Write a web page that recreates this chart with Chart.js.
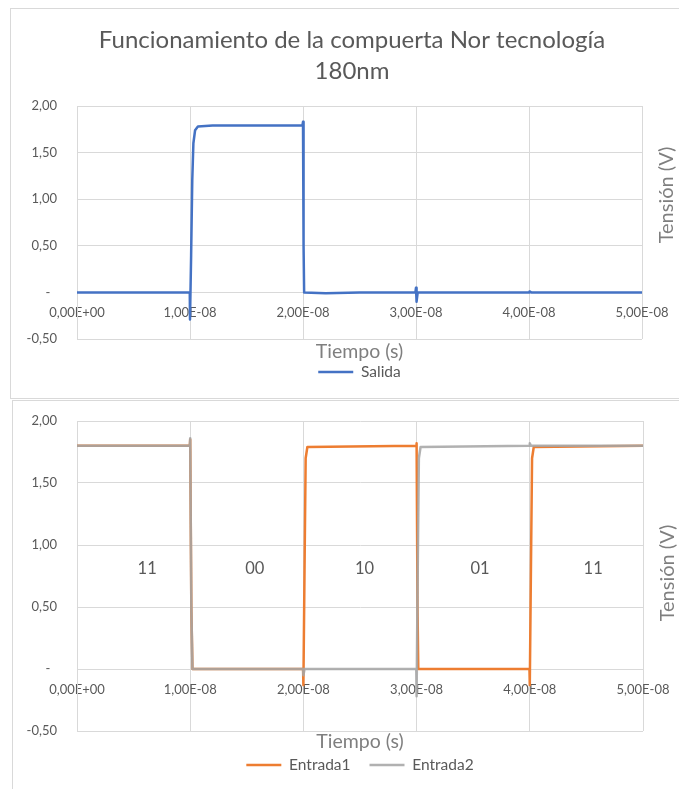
<!DOCTYPE html>
<html lang="es">
<head>
<meta charset="UTF-8">
<title>Funcionamiento de la compuerta Nor tecnología 180nm</title>
<script src="https://cdn.jsdelivr.net/npm/chart.js"></script>
<style>
  body { margin: 0; background: #fff; width: 679px; height: 789px; position: relative; overflow: hidden; }
  #top { position: absolute; left: 10px; top: 8px; width: 669px; height: 389px; border: 1px solid #d9d9d9; }
  #bottom { position: absolute; left: 12px; top: 400px; width: 666px; height: 388px; border-left: 1px solid #d9d9d9; border-top: 1px solid #d9d9d9; }
  canvas { display: block; }
</style>
</head>
<body>
<div id="top"><canvas id="salidaChart" width="669" height="389"></canvas></div>
<div id="bottom"><canvas id="entradasChart" width="666" height="388"></canvas></div>

<script>
// tiempos en ns, tensiones en V
const salidaT = [0, 9.98, 10.0, 10.1, 10.2, 10.3, 10.45, 10.7, 12, 19.95, 20.0, 20.05, 20.1, 22, 25, 29.95, 30.0, 30.05, 30.15, 40, 40.05, 40.2, 50];
const salidaV = [0, 0, -0.29, 0.4, 1.2, 1.6, 1.74, 1.78, 1.79, 1.79, 1.83, 0.5, 0.0, -0.01, 0, 0, 0.05, -0.1, 0, 0, 0.01, 0, 0];

const entrada1T = [0, 9.97, 10.0, 10.1, 10.2, 19.97, 20.0, 20.1, 20.2, 20.35, 29.97, 30.0, 30.08, 30.15, 39.97, 40.0, 40.1, 40.2, 40.35, 50];
const entrada1V = [1.8, 1.8, 1.85, 0.5, 0, 0, -0.13, 0.8, 1.7, 1.79, 1.8, 1.82, 0.5, 0, 0, -0.13, 0.8, 1.7, 1.79, 1.8];

const entrada2T = [0, 9.97, 10.0, 10.1, 10.2, 19.97, 20.0, 20.1, 29.97, 30.0, 30.1, 30.2, 30.35, 39.97, 40.0, 40.1, 50];
const entrada2V = [1.8, 1.8, 1.86, 0.5, 0, 0, -0.05, 0, 0, -0.22, 0.8, 1.7, 1.79, 1.8, 1.82, 1.8, 1.8];

const xTicks = [0, 1e-8, 2e-8, 3e-8, 4e-8, 5e-8];
const yTicks = [-0.5, 0, 0.5, 1, 1.5, 2];

const stateNames = ['11', '00', '10', '01', '11'];
const stateT = [6.2, 15.7, 25.4, 35.6, 45.6];
const stateV = [0.81, 0.81, 0.81, 0.81, 0.81];

const NS = 1e-9;
const toPoints = (t, v) => t.map((ti, i) => ({ x: ti * NS, y: v[i] }));

Chart.defaults.font.family = "Lato, 'Open Sans', sans-serif";
Chart.defaults.color = '#595959';

function fmtSci(v) {
    if (v === 0) return '0,00E+00';
    const e = Math.floor(Math.log10(Math.abs(v)) + 1e-9);
    const m = v / Math.pow(10, e);
    return m.toFixed(2).replace('.', ',') + 'E' + (e < 0 ? '-' : '+') + String(Math.abs(e)).padStart(2, '0');
}
function fmtY(v) {
    return v === 0 ? '-  ' : v.toFixed(2).replace('.', ',');
}

// título, rótulo del eje Y a la derecha y estados de entrada
const decor = {
    id: 'decor',
    afterDraw(chart, args, opts) {
        const ctx = chart.ctx;
        const area = chart.chartArea;
        ctx.save();
        ctx.fillStyle = '#595959';
        ctx.textAlign = 'center';
        ctx.textBaseline = 'middle';
        if (opts.title) {
            ctx.font = "24px Lato";
            opts.title.forEach((line, i) => ctx.fillText(line, opts.titleX, opts.titleY + i * 31));
        }
        if (opts.states) {
            ctx.font = "16.5px Lato";
            const xs = chart.scales.x, ys = chart.scales.y;
            stateNames.forEach((s, i) => {
                ctx.fillText(s, xs.getPixelForValue(stateT[i] * NS), ys.getPixelForValue(stateV[i]));
            });
        }
        ctx.fillStyle = '#7f7f7f';
        ctx.font = "20px Lato";
        ctx.translate(area.right + 25, opts.yTitleY);
        ctx.rotate(-Math.PI / 2);
        ctx.fillText('Tensión (V)', 0, 0);
        ctx.restore();
    }
};

const clear = 'rgba(0,0,0,0)';

function makeOptions(c) {
    return {
        responsive: false,
        animation: false,
        events: [],
        layout: { padding: { top: c.padTop, right: c.padRight, bottom: c.padBottom, left: 0 } },
        scales: {
            x: {
                type: 'linear',
                position: { y: 0 },
                min: 0, max: 5e-8,
                afterBuildTicks: s => { s.ticks = xTicks.map(v => ({ value: v })); },
                ticks: { callback: v => fmtSci(v), padding: 0, maxRotation: 0, font: { size: 13 } },
                grid: { color: '#d9d9d9', drawTicks: true, tickLength: 13, tickColor: clear },
                border: { color: '#d9d9d9' }
            },
            xTitle: {
                type: 'linear',
                position: 'bottom',
                grid: { display: false },
                border: { display: false },
                ticks: { display: false },
                title: { display: true, text: 'Tiempo (s)', color: '#7f7f7f', font: { size: 19.5 }, padding: { top: 0, bottom: c.titlePadBottom } },
                afterFit: s => { s.height = c.titleH; }
            },
            y: {
                min: -0.5, max: 2,
                afterBuildTicks: s => { s.ticks = yTicks.map(v => ({ value: v })); },
                ticks: { callback: v => fmtY(v), padding: 0, font: { size: 13 } },
                grid: { color: '#d9d9d9', drawTicks: true, tickLength: 20, tickColor: clear },
                border: { color: '#d9d9d9' },
                afterFit: s => { s.width = c.yWidth; }
            }
        },
        plugins: {
            legend: {
                position: 'bottom',
                fullSize: false,
                labels: {
                    usePointStyle: true,
                    pointStyle: 'line',
                    pointStyleWidth: 35,
                    padding: c.legendPad,
                    font: { size: 15.5 },
                    color: '#595959',
                    sort: (a, b) => a.datasetIndex - b.datasetIndex
                }
            },
            tooltip: { enabled: false },
            decor: c.decor
        }
    };
}

new Chart(document.getElementById('salidaChart'), {
    type: 'line',
    data: {
        datasets: [{
            label: 'Salida',
            data: toPoints(salidaT, salidaV),
            borderColor: '#4472C4',
            backgroundColor: '#4472C4',
            borderWidth: 2.5,
            pointRadius: 0,
            tension: 0,
            borderJoinStyle: 'round'
        }]
    },
    options: makeOptions({
        padTop: 97, padRight: 38, padBottom: 8.25, yWidth: 66,
        titleH: 21, titlePadBottom: -3.7, legendPad: 4.25,
        decor: { title: ['Funcionamiento de la compuerta Nor tecnología', '180nm'], titleX: 341, titleY: 31, yTitleY: 186 }
    }),
    plugins: [decor]
});

new Chart(document.getElementById('entradasChart'), {
    type: 'line',
    data: {
        datasets: [{
            label: 'Entrada1',
            data: toPoints(entrada1T, entrada1V),
            borderColor: '#ED7D31',
            backgroundColor: '#ED7D31',
            borderWidth: 2.5,
            pointRadius: 0,
            tension: 0,
            borderJoinStyle: 'round',
            order: 1
        }, {
            label: 'Entrada2',
            data: toPoints(entrada2T, entrada2V),
            borderColor: 'rgba(165,165,165,0.87)',
            backgroundColor: 'rgba(165,165,165,0.87)',
            borderWidth: 2.5,
            pointRadius: 0,
            tension: 0,
            borderJoinStyle: 'round',
            order: 0
        }]
    },
    options: makeOptions({
        padTop: 20, padRight: 36, padBottom: 6.25, yWidth: 64,
        titleH: 7.25, titlePadBottom: -15.45, legendPad: 19,
        decor: { states: true, yTitleY: 172 }
    }),
    plugins: [decor]
});
</script>
</body>
</html>
